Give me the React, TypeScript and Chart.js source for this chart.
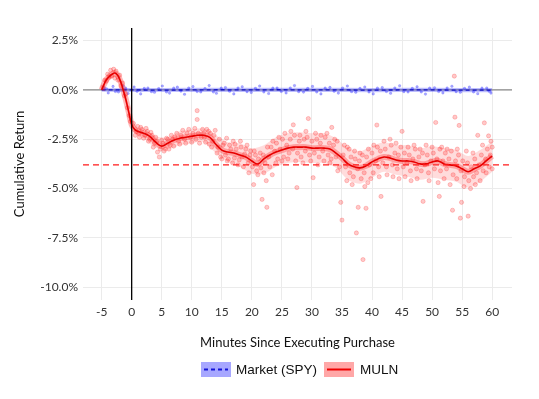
import React, { useEffect, useRef } from "react";
import { Chart, registerables } from "chart.js";

Chart.register(...registerables);

// ---------- data ----------
const xTicks = [-5, 0, 5, 10, 15, 20, 25, 30, 35, 40, 45, 50, 55, 60];
const yTicks = [-10, -7.5, -5, -2.5, 0, 2.5];
const xMin = -8.1;
const xMax = 63.3;
const yMin = -10.65;
const yMax = 3.14;
const purchaseMinute = 0;
const avgReturn = -3.8;

const seriesNames = ["Market (SPY)", "MULN"];

const mulnTimes = [
  -5, -4.5, -4, -3, -2.5, -2, -1.5, -1, -0.5, 0, 0.5, 1, 2, 3, 4, 5, 6, 7, 8, 9, 10,
  11, 12, 13, 14, 15, 16, 17, 18, 19, 20, 21, 22, 23, 24, 25, 26, 27, 28, 29, 30,
  31, 32, 33, 34, 35, 36, 37, 38, 39, 40, 41, 42, 43, 44, 45, 46, 47, 48, 49, 50,
  51, 52, 53, 54, 55, 56, 57, 58, 59, 60,
];
const mulnSmooth = [
  0.0, 0.35, 0.6, 0.85, 0.8, 0.55, 0.1, -0.45, -1.1, -1.75, -2.0, -2.1, -2.2, -2.35,
  -2.65, -2.85, -2.7, -2.55, -2.45, -2.4, -2.35, -2.3, -2.3, -2.4, -2.75, -3.05,
  -3.15, -3.2, -3.3, -3.4, -3.6, -3.75, -3.5, -3.3, -3.15, -3.05, -2.95, -2.9, -2.9,
  -2.9, -2.95, -2.95, -2.95, -3.0, -3.2, -3.45, -3.75, -3.9, -3.95, -3.85, -3.65,
  -3.5, -3.4, -3.45, -3.55, -3.6, -3.6, -3.65, -3.75, -3.75, -3.65, -3.6, -3.75,
  -3.8, -3.85, -4.0, -4.15, -4.0, -3.85, -3.6, -3.35,
];

const bandTimes = [
  -5, -4, -3, -2, -1, 0, 1, 2, 4, 6, 8, 10, 12, 14, 16, 18, 20, 22, 24, 26, 28, 30,
  32, 34, 36, 38, 40, 42, 44, 46, 48, 50, 52, 54, 56, 58, 60,
];
const mulnBandUpper = [
  0.1, 0.75, 1.0, 0.75, -0.2, -1.5, -1.9, -1.95, -2.35, -2.4, -2.1, -2.0, -1.95,
  -2.3, -2.65, -2.7, -2.95, -2.8, -2.4, -2.2, -2.15, -2.2, -2.2, -2.45, -2.95,
  -3.1, -2.85, -2.65, -2.8, -2.8, -2.95, -2.85, -2.95, -3.05, -3.35, -3.05, -2.6,
];
const mulnBandLower = [
  -0.05, 0.4, 0.65, 0.3, -0.7, -2.0, -2.35, -2.45, -2.95, -3.0, -2.8, -2.7, -2.65,
  -3.2, -3.65, -3.9, -4.25, -4.25, -3.9, -3.7, -3.65, -3.7, -3.7, -3.95, -4.55, -4.75,
  -4.45, -4.15, -4.3, -4.4, -4.55, -4.45, -4.55, -4.65, -4.95, -4.65, -4.15,
];

const mulnPoints: [number, number][] = [
  [-4.8, 0.15], [-4.5, 0.5], [-4.2, 0.45], [-4, 0.8], [-3.8, 0.65], [-3.5, 1.0],
  [-3.3, 0.7], [-3, 1.05], [-2.8, 0.6], [-2.6, 0.95], [-2.3, 0.5], [-2, 0.75],
  [-1.8, 0.2], [-1.5, 0.35], [-1.2, -0.3], [-1, -0.2], [-0.7, -0.9], [-0.4, -1.3],
  [-0.2, -1.6], [0.3, -1.7], [0.6, -2.3], [1, -1.85], [1.3, -2.4], [1.7, -2.0],
  [2, -2.45], [2.4, -1.95], [2.8, -2.6], [3.2, -2.15], [3.6, -2.9], [4, -2.4],
  [4.3, -3.15], [4.6, -3.4], [5, -2.55], [5.4, -3.1], [5.8, -2.45], [6.2, -3.0],
  [6.6, -2.3], [7, -2.85], [7.5, -2.2], [8, -2.75], [8.5, -2.05], [9, -2.7],
  [9.5, -2.0], [10, -2.65], [10.5, -1.95], [10.9, -1.05], [10.9, -1.5], [11.3, -2.7],
  [11.8, -2.0], [12.3, -2.65], [12.8, -2.1], [13.3, -2.9], [13.7, -2.3], [14.2, -3.2],
  [14.6, -2.5], [15, -3.5], [15.4, -2.7], [15.9, -3.6], [16.3, -2.8], [16.8, -3.7],
  [17.2, -2.75], [17.7, -3.8], [18.2, -2.9], [18.6, -3.9], [19, -3.0], [19.5, -4.2],
  [19.8, -3.1], [20.3, -4.8], [20.6, -3.3], [21, -4.3], [21.4, -3.2], [21.7, -5.55],
  [22, -4.2], [22.5, -5.95], [22.6, -2.9], [23, -3.9], [23.5, -2.6], [24, -3.7],
  [24.5, -2.4], [25, -3.6], [25.5, -2.2], [26, -3.5], [26.5, -2.1], [26.9, -1.77],
  [27.3, -3.6], [27.5, -4.95], [28, -2.3], [28.5, -3.7], [29, -2.1], [29.4, -1.45],
  [29.8, -3.6], [30.2, -4.45], [30.6, -2.2], [31, -3.8], [31.5, -2.3], [32, -3.6],
  [32.5, -2.2], [33, -3.7], [33.3, -1.9], [33.8, -2.5], [34.3, -4.1], [34.8, -5.7],
  [35, -6.6], [35.4, -2.8], [35.8, -4.6], [36.2, -3.0], [36.7, -4.8], [37.1, -3.1],
  [37.4, -7.25], [37.7, -5.95], [38, -3.2], [38.5, -8.6], [38.8, -4.9], [39, -6.0],
  [39.4, -3.0], [39.8, -4.5], [40.3, -2.8], [40.8, -1.78], [41.2, -4.4], [41.5, -5.4],
  [42, -2.6], [42.5, -4.3], [43, -2.5], [43.5, -4.4], [44, -2.7], [44.5, -4.5],
  [45, -2.1], [45.5, -4.4], [46, -2.9], [46.5, -4.6], [47, -2.8], [47.5, -4.5],
  [48, -3.0], [48.5, -5.65], [49, -2.8], [49.5, -4.6], [50, -2.9], [50.6, -1.65],
  [51, -4.7], [51.2, -5.4], [51.6, -2.9], [52, -4.5], [52.5, -3.0], [53, -4.8],
  [53.4, -6.1], [53.7, 0.7], [53.8, -1.38], [54.2, -3.0], [54.5, -1.8], [54.7, -6.5],
  [54.9, -5.7], [55.3, -4.9], [55.7, -3.1], [56, -6.4], [56.4, -5.0], [56.8, -3.2],
  [57.2, -4.8], [57.6, -2.3], [58, -4.6], [58.4, -2.8], [58.7, -1.67], [59, -4.2],
  [59.4, -2.33], [59.8, -2.6], [60, -4.0],
];

const mulnPointsCore: [number, number][] = [
  [0.8, -2.1], [1.2, -2.2], [1.5, -1.9], [2.2, -2.3], [2.6, -2.1], [3, -2.5],
  [3.4, -2.3], [3.8, -2.7], [4.2, -2.6], [4.8, -3.0], [5.2, -2.7], [5.6, -3.0],
  [6, -2.5], [6.4, -2.8], [6.8, -2.5], [7.2, -2.4], [7.8, -2.6], [8.2, -2.3],
  [8.8, -2.5], [9.2, -2.2], [9.8, -2.4], [10.2, -2.2], [10.7, -2.5], [11.1, -2.2],
  [11.6, -2.4], [12, -2.2], [12.1, -2.4], [12.5, -2.0], [12.9, -2.75], [13.1, -2.2],
  [13.5, -2.6], [13.9, -2.05], [14.4, -2.9], [14.8, -3.4], [15.2, -2.8], [15.6, -3.3],
  [15.8, -2.45], [16.1, -3.5], [16.5, -3.0], [16.9, -2.6], [17.1, -3.45], [17.4, -3.0],
  [17.9, -3.55], [18.1, -2.6], [18.4, -3.4], [18.8, -3.25], [19.2, -2.8], [19.4, -3.7],
  [19.7, -3.3], [20.1, -3.9], [20.4, -3.1], [20.8, -4.1], [21.1, -3.5], [21.5, -3.95],
  [21.9, -3.3], [22.2, -3.7], [22.4, -4.6], [22.8, -3.4], [23.2, -2.9], [23.4, -4.3],
  [23.8, -3.1], [24.1, -2.7], [24.3, -3.5], [24.7, -3.0], [25.1, -2.5], [25.3, -3.4],
  [25.8, -2.8], [26.2, -3.2], [26.4, -2.5], [26.8, -3.0], [27.1, -2.3], [27.6, -3.2],
  [27.9, -2.6], [28.2, -3.4], [28.7, -2.5], [28.9, -3.1], [29.2, -2.4], [29.6, -3.3],
  [30, -2.6], [30.4, -3.2], [30.8, -2.5], [31.2, -3.4], [31.4, -2.7], [31.8, -3.1],
  [32.2, -2.4], [32.7, -3.3], [32.9, -2.7], [33.2, -3.5], [33.6, -2.8], [34, -3.4],
  [34.2, -2.6], [34.6, -3.9], [35.2, -3.3], [35.6, -3.9], [35.9, -2.9], [36.3, -4.2],
  [36.5, -3.4], [36.9, -4.4], [37.2, -3.5], [37.6, -4.0], [37.9, -3.6], [38.2, -4.5],
  [38.4, -3.3], [38.7, -4.2], [39.1, -3.4], [39.3, -4.7], [39.6, -3.8], [40, -3.2],
  [40.2, -4.2], [40.6, -3.6], [40.9, -2.9], [41.1, -3.9], [41.4, -3.1], [41.8, -3.7],
  [42.2, -3.0], [42.4, -3.9], [42.8, -3.4], [43.2, -2.8], [43.4, -3.8], [43.8, -3.2],
  [44.2, -4.0], [44.4, -3.3], [44.8, -2.9], [45.2, -3.9], [45.4, -3.2], [45.8, -3.7],
  [46.2, -3.3], [46.4, -4.1], [46.8, -3.5], [47.2, -3.0], [47.4, -4.0], [47.8, -3.4],
  [48.2, -4.1], [48.4, -3.2], [48.8, -3.8], [49.2, -3.3], [49.4, -4.2], [49.8, -3.6],
  [50.2, -3.2], [50.4, -4.0], [50.8, -3.5], [51.3, -3.0], [51.4, -4.1], [51.8, -3.6],
  [52.2, -3.2], [52.4, -4.0], [52.8, -3.5], [53.2, -3.1], [53.5, -4.3], [53.9, -3.6],
  [54.1, -4.5], [54.4, -3.3], [54.8, -4.1], [55.1, -3.6], [55.4, -4.4], [55.9, -3.7],
  [56.1, -4.6], [56.5, -3.9], [56.9, -4.4], [57.1, -3.5], [57.4, -4.2], [57.8, -3.8],
  [58.2, -3.3], [58.5, -4.1], [58.9, -3.5], [59.2, -3.0], [59.5, -3.9], [59.7, -3.3],
  [60, -2.9],
];

const spyTimes = [-5, 0, 5, 10, 15, 20, 25, 30, 35, 40, 45, 50, 55, 60];
const spySmooth = [0.0, 0.0, -0.01, 0.0, 0.01, 0.0, 0.01, 0.0, 0.0, -0.01, 0.0, 0.0, -0.01, -0.01];
const spyBandUpper = [0.09, 0.1, 0.1, 0.11, 0.11, 0.11, 0.11, 0.11, 0.11, 0.1, 0.11, 0.11, 0.1, 0.1];
const spyBandLower = [-0.09, -0.11, -0.11, -0.11, -0.1, -0.11, -0.1, -0.11, -0.11, -0.12, -0.11, -0.11, -0.12, -0.12];
const spyPoints: [number, number][] = [
  [-4.6, 0.12], [-3.9, -0.15], [-3.1, 0.18], [-2.2, -0.1], [-1.4, 0.2], [-0.6, -0.18],
  [0.4, 0.15], [1.5, -0.2], [2.7, 0.1], [3.8, -0.12], [5.1, 0.2], [6.3, -0.16],
  [7.6, 0.14], [8.8, -0.22], [10.2, 0.17], [11.5, -0.1], [12.9, 0.22], [14.1, -0.17],
  [15.6, 0.12], [17, -0.2], [18.4, 0.16], [19.9, -0.13], [21.3, 0.2], [22.8, -0.18],
  [24.2, 0.1], [25.7, -0.15], [27.1, 0.22], [28.6, -0.11], [30.1, 0.18], [31.5, -0.2],
  [33, 0.13], [34.4, -0.16], [35.9, 0.2], [37.3, -0.12], [38.8, 0.15], [40.2, -0.2],
  [41.7, 0.12], [43.1, -0.17], [44.6, 0.21], [46, -0.1], [47.5, 0.16], [48.9, -0.21],
  [50.4, 0.11], [51.8, -0.15], [53.3, 0.19], [54.7, -0.12], [56.2, 0.14], [57.6, -0.19],
  [59.1, 0.1], [59.8, -0.16], [-4.2, 0.06], [-2.7, -0.08], [-1.0, 0.09], [0.9, -0.07],
  [2.1, 0.08], [3.3, -0.09], [4.5, 0.07], [5.8, -0.1], [7.0, 0.09], [8.2, -0.06],
  [9.5, 0.1], [10.9, -0.08], [12.2, 0.07], [13.6, -0.1], [14.9, 0.09], [16.3, -0.07],
  [17.7, 0.1], [19.2, -0.09], [20.6, 0.08], [22.0, -0.1], [23.5, 0.09], [24.9, -0.08],
  [26.4, 0.1], [27.8, -0.09], [29.3, 0.08], [30.8, -0.1], [32.2, 0.09], [33.7, -0.07],
  [35.1, 0.1], [36.6, -0.09], [38.0, 0.08], [39.5, -0.1], [40.9, 0.09], [42.4, -0.08],
  [43.8, 0.1], [45.3, -0.09], [46.7, 0.08], [48.2, -0.1], [49.6, 0.09], [51.1, -0.08],
  [52.5, 0.1], [54.0, -0.09], [55.4, 0.08], [56.9, -0.1], [58.3, 0.09], [59.5, -0.07],
];

// ---------- helpers ----------
const toXY = (xs: number[], ys: number[]) => xs.map((x, i) => ({ x, y: ys[i] }));
const pairs = (p: [number, number][]) => p.map(([x, y]) => ({ x, y }));

const AXIS_FONT = "Lato, 'DejaVu Sans', sans-serif";
const LEGEND_FONT = "'Liberation Sans', Arial, sans-serif";

const refLinesPlugin = {
  id: "refLines",
  beforeDatasetsDraw(chart: any) {
    const { ctx, chartArea, scales } = chart;
    const y0 = scales.y.getPixelForValue(0);
    ctx.save();
    ctx.strokeStyle = "#6e6e6e";
    ctx.lineWidth = 1;
    ctx.beginPath();
    ctx.moveTo(chartArea.left, y0);
    ctx.lineTo(chartArea.right, y0);
    ctx.stroke();
    ctx.restore();
  },
  afterDatasetsDraw(chart: any) {
    const { ctx, chartArea, scales } = chart;
    const xv = scales.x.getPixelForValue(purchaseMinute);
    const ya = scales.y.getPixelForValue(avgReturn);
    ctx.save();
    ctx.strokeStyle = "#000";
    ctx.lineWidth = 1.3;
    ctx.beginPath();
    ctx.moveTo(xv, chartArea.top);
    ctx.lineTo(xv, chartArea.bottom);
    ctx.stroke();
    ctx.strokeStyle = "#ff1a1a";
    ctx.lineWidth = 1.4;
    ctx.setLineDash([6, 4]);
    ctx.beginPath();
    ctx.moveTo(chartArea.left, ya);
    ctx.lineTo(chartArea.right, ya);
    ctx.stroke();
    ctx.restore();
  },
  afterDraw(chart: any) {
    const { ctx } = chart;
    ctx.save();
    const boxY = 362;
    const boxH = 15;
    const boxW = 30;
    const textY = boxY + boxH / 2 + 0.5;
    ctx.font = `13.5px ${LEGEND_FONT}`;
    ctx.textBaseline = "middle";
    ctx.textAlign = "left";
    let x = 201;
    ctx.fillStyle = "rgba(60,60,255,0.45)";
    ctx.fillRect(x, boxY, boxW, boxH);
    ctx.strokeStyle = "#1414d8";
    ctx.lineWidth = 2;
    ctx.setLineDash([4, 3]);
    ctx.beginPath();
    ctx.moveTo(x + 3, boxY + boxH / 2);
    ctx.lineTo(x + boxW - 3, boxY + boxH / 2);
    ctx.stroke();
    ctx.setLineDash([]);
    ctx.fillStyle = "#111";
    ctx.fillText(seriesNames[0], x + boxW + 5, textY);
    x = 324;
    ctx.fillStyle = "rgba(255,60,60,0.45)";
    ctx.fillRect(x, boxY, boxW, boxH);
    ctx.strokeStyle = "#ee0000";
    ctx.lineWidth = 2;
    ctx.beginPath();
    ctx.moveTo(x + 3, boxY + boxH / 2);
    ctx.lineTo(x + boxW - 3, boxY + boxH / 2);
    ctx.stroke();
    ctx.fillStyle = "#111";
    ctx.fillText(seriesNames[1], x + boxW + 6, textY);
    ctx.restore();
  },
};

export default function App() {
  const canvasRef = useRef<HTMLCanvasElement | null>(null);

  useEffect(() => {
    if (!canvasRef.current) return;
    const redPoint = {
      pointRadius: 2.1,
      backgroundColor: "rgba(255,60,60,0.28)",
      borderColor: "rgba(255,0,0,0.32)",
      borderWidth: 0.6,
    };
    const chart = new Chart(canvasRef.current, {
      type: "scatter",
      data: {
        datasets: [
          {
            label: "spyLower",
            data: toXY(spyTimes, spyBandLower),
            showLine: true,
            borderWidth: 0,
            pointRadius: 0,
            fill: false,
            order: 20,
          } as any,
          {
            label: "spyUpper",
            data: toXY(spyTimes, spyBandUpper),
            showLine: true,
            borderWidth: 0,
            pointRadius: 0,
            backgroundColor: "rgba(40,40,255,0.3)",
            fill: "-1",
            order: 19,
          } as any,
          {
            label: "spyPts",
            data: pairs(spyPoints),
            pointRadius: 1.3,
            backgroundColor: "rgba(40,40,255,0.4)",
            borderColor: "rgba(0,0,255,0.3)",
            borderWidth: 0.4,
            order: 18,
          },
          {
            label: seriesNames[0],
            data: toXY(spyTimes, spySmooth),
            showLine: true,
            borderColor: "#1010cc",
            borderWidth: 1.3,
            borderDash: [4, 3],
            pointRadius: 0,
            fill: false,
            order: 17,
          } as any,
          {
            label: "mulnLower",
            data: toXY(bandTimes, mulnBandLower),
            showLine: true,
            borderWidth: 0,
            pointRadius: 0,
            fill: false,
            tension: 0.3,
            order: 16,
          } as any,
          {
            label: "mulnUpper",
            data: toXY(bandTimes, mulnBandUpper),
            showLine: true,
            borderWidth: 0,
            pointRadius: 0,
            tension: 0.3,
            backgroundColor: "rgba(255,40,40,0.16)",
            fill: "-1",
            order: 15,
          } as any,
          { label: "mulnPts", data: pairs(mulnPoints), ...redPoint, order: 14 },
          { label: "mulnPtsCore", data: pairs(mulnPointsCore), ...redPoint, order: 14 },
          {
            label: "mulnCore",
            data: toXY(mulnTimes, mulnSmooth),
            showLine: true,
            borderColor: "rgba(255,20,20,0.3)",
            borderWidth: 6,
            pointRadius: 0,
            tension: 0.4,
            fill: false,
            order: 13,
          } as any,
          {
            label: seriesNames[1],
            data: toXY(mulnTimes, mulnSmooth),
            showLine: true,
            borderColor: "#e60000",
            borderWidth: 1.6,
            pointRadius: 0,
            tension: 0.4,
            fill: false,
            order: 12,
          } as any,
        ],
      },
      options: {
        responsive: false,
        animation: false,
        events: [],
        layout: { padding: { left: 0, top: 28, right: 27, bottom: 0 } },
        plugins: {
          legend: { display: false },
          tooltip: { enabled: false },
          title: { display: false },
        },
        scales: {
          x: {
            type: "linear",
            min: xMin,
            max: xMax,
            afterBuildTicks: (s: any) => {
              s.ticks = xTicks.map((v) => ({ value: v }));
            },
            afterFit: (s: any) => {
              s.height = 99;
            },
            grid: { color: "#ebebeb", lineWidth: 1, drawTicks: false },
            border: { display: false },
            ticks: {
              padding: 5,
              color: "#333",
              font: { family: AXIS_FONT, size: 12 },
              callback: (v: any) => String(v),
              maxRotation: 0,
            },
            title: {
              display: true,
              text: "Minutes Since Executing Purchase",
              color: "#111",
              font: { family: AXIS_FONT, size: 13 },
              padding: { top: 0, bottom: 48 },
            },
          },
          y: {
            type: "linear",
            min: yMin,
            max: yMax,
            afterBuildTicks: (s: any) => {
              s.ticks = yTicks.map((v) => ({ value: v }));
            },
            afterFit: (s: any) => {
              s.width = 83;
            },
            grid: { color: "#ebebeb", lineWidth: 1, drawTicks: false },
            border: { display: false },
            ticks: {
              padding: 5,
              color: "#333",
              font: { family: AXIS_FONT, size: 12 },
              callback: (v: any) => Number(v).toFixed(1) + "%",
            },
            title: {
              display: true,
              text: "Cumulative Return",
              color: "#111",
              font: { family: AXIS_FONT, size: 13 },
              padding: { top: 12, bottom: 0 },
            },
          },
        },
      } as any,
      plugins: [refLinesPlugin],
    });
    return () => chart.destroy();
  }, []);

  return (
    <div style={{ position: "fixed", left: 0, top: 0, width: 539, height: 399, background: "#fff" }}>
      <canvas ref={canvasRef} width={539} height={399} style={{ display: "block" }} />
    </div>
  );
}
